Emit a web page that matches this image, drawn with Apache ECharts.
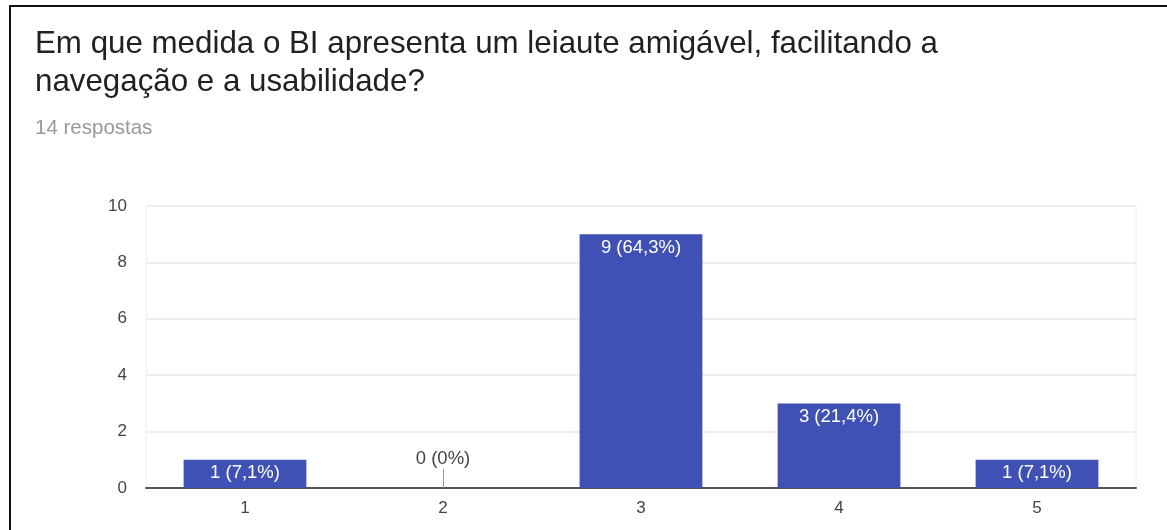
<!DOCTYPE html>
<html>
<head>
    <meta charset="utf-8">
    <title>Leiaute amigável</title>
    <script src="https://cdn.jsdelivr.net/npm/echarts/dist/echarts.min.js"></script>
    <style>
        body { margin: 0; background: #fff; }
    </style>
</head>
<body>
    <div id="main" style="width: 1167px; height: 530px;"></div>

    <script type="text/javascript">
        // dados
        var categorias = ['1', '2', '3', '4', '5'];
        var respostas = [1, 0, 9, 3, 1];
        var percentuais = ['7,1%', '0%', '64,3%', '21,4%', '7,1%'];
        var totalRespostas = 14;

        var chart = echarts.init(document.getElementById('main'));

        // barra com valor zero: rótulo acima, escuro
        var dadosBarras = respostas.map(function (v) {
            if (v === 0) {
                return { value: v, label: { position: 'top', color: '#444', distance: 20 } };
            }
            return v;
        });

        var option = {
            textStyle: { fontFamily: '"Liberation Sans", Arial, sans-serif' },
            title: [
                {
                    text: 'Em que medida o BI apresenta um leiaute amigável, facilitando a\nnavegação e a usabilidade?',
                    left: 30,
                    top: 20,
                    textStyle: { fontSize: 31.3, fontWeight: 'normal', color: '#212121', lineHeight: 38 }
                },
                {
                    text: totalRespostas + ' respostas',
                    left: 30,
                    top: 113,
                    textStyle: { fontSize: 20.5, fontWeight: 'normal', color: '#999' }
                }
            ],
            graphic: [
                {
                    type: 'polyline',
                    shape: { points: [[10, 530], [10, 6], [1167, 6]] },
                    style: { stroke: '#111', lineWidth: 2, fill: null }
                }
            ],
            grid: {
                left: 146,
                right: 31,
                top: 206,
                bottom: 42,
                show: true,
                borderColor: '#eee',
                borderWidth: 1
            },
            xAxis: {
                type: 'category',
                data: categorias,
                axisLine: { lineStyle: { color: '#555', width: 2 } },
                axisTick: { show: false },
                axisLabel: { color: '#444', fontSize: 17, margin: 12 }
            },
            yAxis: {
                type: 'value',
                min: 0,
                max: 10,
                interval: 2,
                axisLine: { show: false },
                axisTick: { show: false },
                axisLabel: { color: '#444', fontSize: 17, margin: 19 },
                splitLine: { lineStyle: { color: '#eee', width: 2 } }
            },
            series: [
                {
                    type: 'bar',
                    data: dadosBarras,
                    barWidth: '62%',
                    itemStyle: { color: '#3f51b5' },
                    label: {
                        show: true,
                        position: 'insideTop',
                        distance: 4,
                        color: '#fff',
                        fontSize: 18.5,
                        formatter: function (p) {
                            return respostas[p.dataIndex] + ' (' + percentuais[p.dataIndex] + ')';
                        }
                    },
                    markLine: {
                        silent: true,
                        symbol: 'none',
                        label: { show: false },
                        lineStyle: { color: '#999', width: 1, type: 'solid' },
                        data: [
                            [{ coord: [categorias[1], 0] }, { coord: [categorias[1], 0.68] }]
                        ]
                    }
                }
            ]
        };

        chart.setOption(option);

        window.addEventListener('resize', function () {
            chart.resize();
        });
    </script>
</body>
</html>
